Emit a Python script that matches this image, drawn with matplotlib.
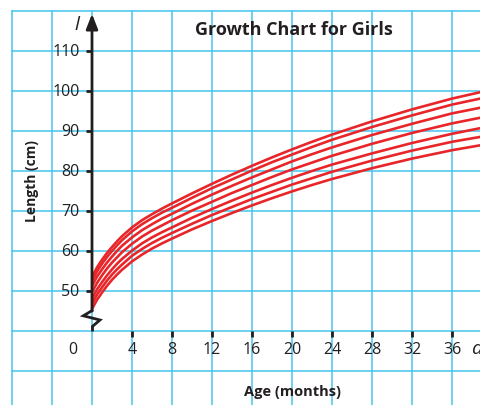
import matplotlib.pyplot as plt

# Age in months and length percentile curves (cm), lowest to highest
months = [0, 0.5, 1, 1.5, 2, 2.5, 3, 4, 5, 6, 7, 8, 10, 12, 14, 16, 18, 20, 22, 24, 28, 32, 36, 39]
p3 = [45.5, 47.8, 49.6, 51.3, 52.8, 54.1, 55.3, 57.4, 59.1, 60.6, 61.9, 63.1,
      65.4, 67.5, 69.5, 71.4, 73.2, 74.9, 76.5, 78.0, 80.7, 83.1, 85.2, 86.5]
p10 = [46.8, 49.1, 50.9, 52.6, 54.1, 55.4, 56.6, 58.8, 60.5, 62.0, 63.3, 64.5,
       66.8, 69.0, 71.0, 73.0, 74.8, 76.6, 78.2, 79.8, 82.6, 85.1, 87.3, 88.6]
p25 = [48.1, 50.4, 52.2, 53.9, 55.4, 56.8, 58.0, 60.1, 61.9, 63.4, 64.7, 65.9,
       68.3, 70.5, 72.6, 74.6, 76.5, 78.3, 80.0, 81.6, 84.4, 87.0, 89.3, 90.8]
p50 = [49.7, 52.0, 53.9, 55.6, 57.1, 58.4, 59.7, 61.8, 63.6, 65.1, 66.4, 67.7,
       70.1, 72.3, 74.5, 76.5, 78.5, 80.4, 82.1, 83.8, 86.8, 89.5, 91.9, 93.4]
p75 = [51.2, 53.6, 55.4, 57.1, 58.6, 60.0, 61.3, 63.4, 65.2, 66.7, 68.1, 69.3,
       71.8, 74.1, 76.3, 78.4, 80.4, 82.4, 84.2, 85.9, 89.0, 91.8, 94.4, 95.9]
p90 = [52.5, 54.9, 56.8, 58.5, 60.0, 61.4, 62.7, 64.9, 66.7, 68.2, 69.6, 70.8,
       73.3, 75.7, 77.9, 80.1, 82.2, 84.1, 86.0, 87.8, 91.0, 93.9, 96.6, 98.2]
p97 = [53.5, 55.9, 57.8, 59.5, 61.0, 62.4, 63.7, 65.9, 67.7, 69.2, 70.6, 71.9,
       74.4, 76.8, 79.1, 81.3, 83.4, 85.4, 87.3, 89.1, 92.4, 95.4, 98.1, 99.8]
curves = [p3, p10, p25, p50, p75, p90, p97]

x_ticks = [4, 8, 12, 16, 20, 24, 28, 32, 36]
y_ticks = [50, 60, 70, 80, 90, 100, 110]

GRID = "#45c4ee"
INK = "#231f20"
RED = "#e8262a"
FONT = "Open Sans"

fig = plt.figure(figsize=(4.81, 4.06), dpi=100)
ax = fig.add_axes([0, 0, 1, 1])
x0, x1, y0, y1 = -9.2, 38.9, 21.5, 123
ax.set_xlim(x0, x1)
ax.set_ylim(y0, y1)
ax.axis("off")

# background grid: 4-month columns, 10 cm rows
for gx in range(-8, 40, 4):
    ax.plot([gx, gx], [y0, 120], color=GRID, lw=1.1, zorder=1)
for gy in range(30, 130, 10):
    ax.plot([-8, x1], [gy, gy], color=GRID, lw=1.1, zorder=1)

# axes with a broken y axis near the origin
ax.plot([0, 0], [40, 41.2], color=INK, lw=2.0, zorder=3, solid_capstyle="butt")
ax.plot([0.07, 0.8, -0.87, 0], [41.2, 42.75, 43.8, 45.1], color=INK, lw=2.0,
        zorder=3, solid_joinstyle="miter")
ax.annotate("", xy=(0, 119.3), xytext=(0, 45.0),
            arrowprops=dict(arrowstyle="-|>,head_length=0.9,head_width=0.35",
                            color=INK, lw=2.0, shrinkA=0, shrinkB=0), zorder=3)
ax.annotate("", xy=(x1 + 0.2, 40), xytext=(-0.1, 40),
            arrowprops=dict(arrowstyle="-|>,head_length=0.9,head_width=0.35",
                            color=INK, lw=2.0, shrinkA=0, shrinkB=0), zorder=3)

for t in y_ticks:
    ax.plot([-0.6, 0], [t, t], color=INK, lw=2.0, zorder=3, solid_capstyle="butt")
    ax.text(-1.25, t, str(t), ha="right", va="center", fontsize=11.5,
            family=FONT, color=INK, zorder=4)
for t in x_ticks:
    ax.plot([t, t], [40, 38.5], color=INK, lw=2.0, zorder=3, solid_capstyle="butt")
    ax.text(t, 35.4, str(t), ha="center", va="center", fontsize=11.5,
            family=FONT, color=INK, zorder=4)
ax.text(-1.9, 35.4, "0", ha="center", va="center", fontsize=11.5,
        family=FONT, color=INK, zorder=4)

# axis variable names
ax.text(-1.5, 116.8, "l", ha="center", va="center", fontsize=14,
        family=FONT, style="italic", color=INK, zorder=4)
ax.text(38.5, 35.8, "a", ha="center", va="center", fontsize=14,
        family=FONT, style="italic", color=INK, zorder=4)

for c in curves:
    ax.plot(months, c, color=RED, lw=1.9, zorder=2, solid_capstyle="butt")

ax.text(20.2, 115.5, "Growth Chart for Girls", ha="center", va="center",
        fontsize=13, fontweight="bold", family=FONT, color=INK, zorder=4)
ax.text(20.1, 25.0, "Age (months)", ha="center", va="center",
        fontsize=10.5, fontweight="bold", family=FONT, color=INK, zorder=4)
ax.text(-6.0, 77.8, "Length (cm)", ha="center", va="center", rotation=90,
        fontsize=10, fontweight="bold", family=FONT, color=INK, zorder=4)

fig.savefig("out.png", dpi=100)
